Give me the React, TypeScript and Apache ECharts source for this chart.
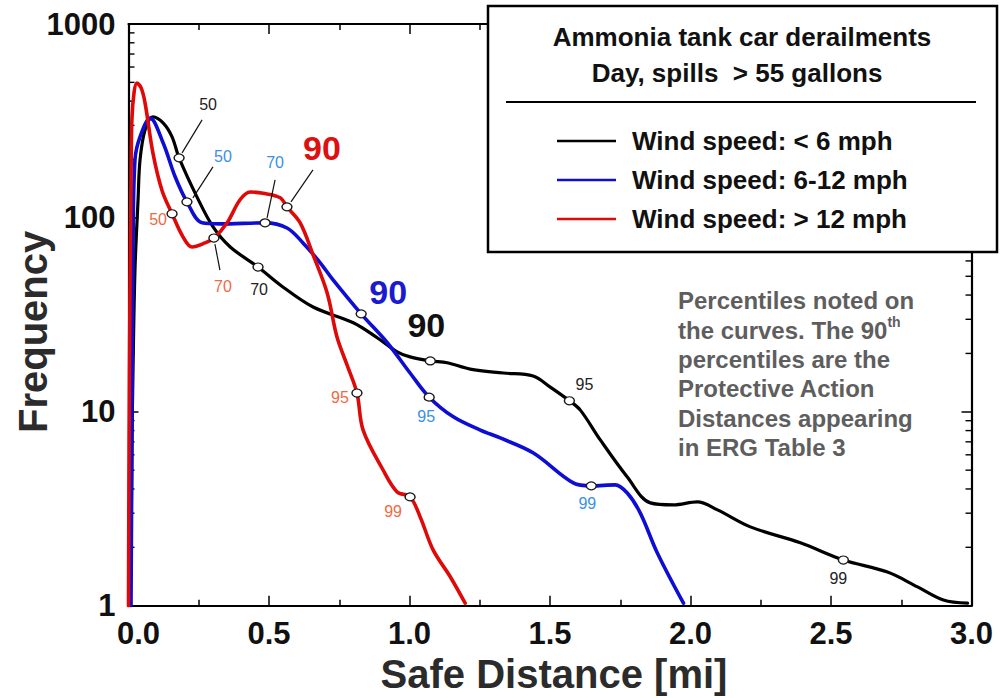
import React, { useEffect, useRef } from "react";
import * as echarts from "echarts";

const FONT = '"Liberation Sans", Arial, Helvetica, sans-serif';

// ---------- text ----------
const seriesNames = ["Wind speed: < 6 mph", "Wind speed: 6-12 mph", "Wind speed: > 12 mph"];
const titleLines = ["Ammonia tank car derailments", "Day, spills  > 55 gallons"];
const noteLines = [
  "Percentiles noted on",
  "the curves. The 90{sup|th}",
  "percentiles are the",
  "Protective Action",
  "Distances appearing",
  "in ERG Table 3",
];
const xAxisName = "Safe Distance [mi]";
const yAxisName = "Frequency";

// ---------- axis ticks ----------
const xMin = 0;
const xMax = 3;
const xInterval = 0.5;
const yMin = 1;
const yMax = 1000;
const logMinorTicks = [2, 3, 4, 5, 6, 7, 8, 9, 20, 30, 40, 50, 60, 70, 80, 90, 200, 300, 400, 500, 600, 700, 800, 900];

// ---------- curves: [distance mi, frequency] ----------
const lowWind: [number, number][] = [
  [0.005, 1], [0.009, 1.94], [0.012, 6.36], [0.016, 16.4], [0.023, 53.8], [0.034, 124], [0.041, 199],
  [0.059, 285], [0.087, 332], [0.123, 309], [0.155, 262], [0.18, 204], [0.244, 128], [0.301, 89.8],
  [0.362, 70.8], [0.461, 55.8], [0.54, 45.1], [0.657, 34.7], [0.8, 28.8], [0.885, 24.1], [0.956, 20.4],
  [1.002, 19.2], [1.074, 18.3], [1.134, 17.9], [1.216, 16.6], [1.334, 15.85], [1.44, 15.3], [1.501, 13.4],
  [1.569, 11.4], [1.608, 10.2], [1.679, 7.16], [1.775, 4.61], [1.857, 3.39], [1.939, 3.31], [2.024, 3.43],
  [2.096, 3.12], [2.213, 2.55], [2.391, 2.11], [2.544, 1.72], [2.701, 1.49], [2.808, 1.25], [2.9, 1.07],
  [2.986, 1.03],
];
const midWind: [number, number][] = [
  [0.009, 1], [0.012, 6.36], [0.016, 65.8], [0.023, 199], [0.041, 262], [0.077, 327], [0.123, 244],
  [0.166, 163], [0.208, 121], [0.262, 94.3], [0.326, 93.1], [0.486, 94.3], [0.564, 88.7], [0.621, 74.3],
  [0.683, 58.5], [0.728, 47.9], [0.828, 32], [0.921, 22.7], [1.002, 15.85], [1.07, 11.9], [1.156, 9.42],
  [1.252, 8.05], [1.323, 7.33], [1.441, 6.13], [1.583, 4.3], [1.647, 4.15], [1.732, 4.2], [1.775, 3.81],
  [1.821, 3.01], [1.882, 1.87], [1.975, 1.03],
];
const highWind: [number, number][] = [
  [0.0, 1], [0.002, 6.36], [0.005, 37.6], [0.009, 157], [0.012, 320], [0.02, 446], [0.03, 496],
  [0.045, 468], [0.059, 391], [0.087, 216], [0.119, 139], [0.155, 105], [0.194, 79.8], [0.226, 70.8],
  [0.272, 74.3], [0.304, 78.7], [0.351, 94.3], [0.397, 124], [0.433, 136], [0.479, 134], [0.54, 127],
  [0.564, 114], [0.611, 94.3], [0.657, 64.4], [0.707, 41], [0.742, 24.3], [0.778, 17.4], [0.813, 12.5],
  [0.835, 8.05], [0.906, 5.01], [0.956, 3.86], [1.002, 3.64], [1.038, 2.87], [1.084, 1.94], [1.145, 1.41],
  [1.198, 1.03],
];

// ---------- percentile points ----------
const percentiles = [50, 70, 90, 95, 99];
const lowWindPct: [number, number][] = [[0.18, 204], [0.461, 55.8], [1.074, 18.3], [1.569, 11.4], [2.544, 1.72]];
const midWindPct: [number, number][] = [[0.208, 121], [0.486, 94.3], [0.828, 32], [1.07, 11.9], [1.647, 4.15]];
const highWindPct: [number, number][] = [[0.155, 105], [0.304, 78.7], [0.564, 114], [0.813, 12.5], [1.002, 3.64]];

// ---------- layout (pixel offsets of labels / leader lines relative to markers) ----------
const labelOffsets: Record<string, number[][]> = {
  low: [[29, -53], [1, 22], [-4, -36], [15, -16], [-5, 18]],
  mid: [[36, -45], [10, -60], [27, -22], [-3, 19], [-4, 18]],
  high: [[-14, 6], [9, 48], [35, -59], [-17, 4], [-17, 15]],
};
const leaderSpecs = [
  { set: "low", i: 0, from: [3, -5], to: [23, -38] },
  { set: "mid", i: 0, from: [6, -4], to: [26, -35] },
  { set: "mid", i: 1, from: [2, -5], to: [10, -43] },
  { set: "high", i: 1, from: [1, 6], to: [6, 32] },
  { set: "high", i: 2, from: [4, -5], to: [26, -37] },
];

const COLORS = { low: "#000000", mid: "#0d0dd4", high: "#de0a0a" };
const SMALL_LABEL = { low: "#222222", mid: "#3a90e8", high: "#f06a45" };
const BIG_LABEL = { low: "#111111", mid: "#1a1ad0", high: "#dd1111" };

function pctSeries(key: "low" | "mid" | "high", pts: [number, number][]) {
  return {
    type: "scatter",
    name: key + "-pct",
    z: 6,
    silent: true,
    symbol: "circle",
    symbolSize: [10, 8],
    itemStyle: { color: "#ffffff", borderColor: "#1a1a1a", borderWidth: 1.3, opacity: 1 },
    data: pts.map((p, i) => {
      const big = percentiles[i] === 90;
      return {
        value: p,
        label: {
          show: true,
          position: "inside",
          offset: labelOffsets[key][i],
          formatter: String(percentiles[i]),
          fontFamily: FONT,
          fontSize: big ? 34 : 16,
          fontWeight: big ? "bold" : "normal",
          color: big ? BIG_LABEL[key] : SMALL_LABEL[key],
          textBorderWidth: 0,
        },
      };
    }),
  };
}

function lineSeries(name: string, data: [number, number][], color: string, width: number) {
  return {
    type: "line",
    name,
    data,
    z: 4,
    showSymbol: false,
    symbol: "none",
    smooth: 0.35,
    silent: true,
    lineStyle: { color, width, cap: "round", join: "round" },
    itemStyle: { color },
  };
}

export default function App() {
  const ref = useRef<HTMLDivElement>(null);

  useEffect(() => {
    if (!ref.current) return;
    const chart = echarts.init(ref.current, null, { renderer: "svg" });
    const pctSets: Record<string, [number, number][]> = { low: lowWindPct, mid: midWindPct, high: highWindPct };

    const tickLabelStyle = {
      fontFamily: FONT,
      fontSize: 31,
      fontWeight: "bold",
      color: "#111111",
    };

    const option: any = {
      animation: false,
      backgroundColor: "#ffffff",
      grid: {
        left: 128.5,
        right: 28.5,
        top: 24,
        bottom: 92.3,
        containLabel: false,
        outerBoundsMode: "none",
      },
      xAxis: [
        {
          type: "value",
          position: "bottom",
          min: xMin,
          max: xMax,
          interval: xInterval,
          name: xAxisName,
          nameLocation: "middle",
          nameGap: 47,
          nameTextStyle: { fontFamily: FONT, fontSize: 40, fontWeight: "bold", color: "#2b2b2b", padding: [0, 0, 0, 8] },
          axisLine: { show: true, onZero: false, lineStyle: { color: "#000", width: 2.2 } },
          axisTick: { show: true, inside: true, length: 10, lineStyle: { color: "#000", width: 1.5 } },
          minorTick: { show: true, splitNumber: 2, length: 6, lineStyle: { color: "#000", width: 1.5 } },
          splitLine: { show: false },
          minorSplitLine: { show: false },
          axisLabel: {
            ...tickLabelStyle,
            margin: 12,
            formatter: (v: number) => (v === 0 ? "{z|0.0}" : v.toFixed(1)),
            rich: { z: { ...tickLabelStyle, padding: [0, 0, 0, 20] } },
          },
        },
        {
          type: "value",
          position: "top",
          min: xMin,
          max: xMax,
          interval: xInterval,
          axisLine: { show: true, onZero: false, lineStyle: { color: "#000", width: 2.2 } },
          axisTick: { show: true, inside: true, length: 10, lineStyle: { color: "#000", width: 1.5 } },
          minorTick: { show: true, splitNumber: 2, length: 6, lineStyle: { color: "#000", width: 1.5 } },
          splitLine: { show: false },
          axisLabel: { show: false },
        },
      ],
      yAxis: [
        {
          type: "log",
          logBase: 10,
          position: "left",
          min: yMin,
          max: yMax,
          name: yAxisName,
          nameLocation: "middle",
          nameRotate: 90,
          nameGap: 76,
          nameMoveOverlap: false,
          nameTextStyle: { fontFamily: FONT, fontSize: 40, fontWeight: "bold", color: "#2b2b2b", padding: [0, 34, 0, 0] },
          axisLine: { show: true, onZero: false, lineStyle: { color: "#000", width: 2.2 } },
          axisTick: { show: true, inside: true, length: 10, lineStyle: { color: "#000", width: 1.5 } },
          minorTick: { show: false },
          splitLine: { show: false },
          axisLabel: {
            ...tickLabelStyle,
            margin: 13,
            padding: [16, 0, 0, 0],
            formatter: (v: number) => String(Math.round(v)),
          },
        },
        {
          type: "log",
          logBase: 10,
          position: "right",
          min: yMin,
          max: yMax,
          axisLine: { show: true, onZero: false, lineStyle: { color: "#000", width: 2.2 } },
          axisTick: { show: true, inside: true, length: 10, lineStyle: { color: "#000", width: 1.5 } },
          minorTick: { show: false },
          splitLine: { show: false },
          axisLabel: { show: false },
        },
      ],
      legend: {
        show: true,
        data: seriesNames,
        orient: "vertical",
        left: 552,
        top: 123,
        z: 20,
        icon: "rect",
        itemWidth: 59,
        itemHeight: 2.5,
        itemGap: 13,
        selectedMode: false,
        textStyle: {
          fontFamily: FONT,
          fontSize: 26,
          fontWeight: "bold",
          color: "#111111",
          padding: [0, 0, 0, 11],
        },
      },
      graphic: {
        elements: [
          {
            type: "rect",
            z: 10,
            shape: { x: 488, y: 6, width: 509, height: 246 },
            style: { fill: "#ffffff", stroke: "#000000", lineWidth: 2.5 },
          },
          {
            type: "text",
            z: 11,
            x: 742,
            y: 37,
            style: {
              text: titleLines[0],
              align: "center",
              verticalAlign: "middle",
              font: `bold 26px ${FONT}`,
              fill: "#111111",
            },
          },
          {
            type: "text",
            z: 11,
            x: 737,
            y: 73,
            style: {
              text: titleLines[1],
              align: "center",
              verticalAlign: "middle",
              font: `bold 26px ${FONT}`,
              fill: "#111111",
            },
          },
          {
            type: "line",
            z: 11,
            shape: { x1: 506, y1: 102, x2: 976, y2: 102 },
            style: { stroke: "#000000", lineWidth: 2 },
          },
          {
            type: "text",
            z: 11,
            x: 678,
            y: 286,
            style: {
              text: noteLines.join("\n"),
              align: "left",
              verticalAlign: "top",
              font: `bold 24px ${FONT}`,
              lineHeight: 29.4,
              fill: "#5e5e5e",
              rich: {
                sup: {
                  font: `bold 14px ${FONT}`,
                  fill: "#5e5e5e",
                  verticalAlign: "top",
                  lineHeight: 22,
                },
              },
            },
          },
        ],
      },
      series: [
        lineSeries(seriesNames[0], lowWind, COLORS.low, 3.2),
        lineSeries(seriesNames[1], midWind, COLORS.mid, 3.6),
        lineSeries(seriesNames[2], highWind, COLORS.high, 3.6),
        {
          type: "custom",
          name: "log-minor-ticks",
          silent: true,
          z: 3,
          data: logMinorTicks.map((v) => [xMin, v]),
          encode: { x: 0, y: 1 },
          renderItem: (_params: any, api: any) => {
            const v = api.value(1);
            const l = api.coord([xMin, v]);
            const r = api.coord([xMax, v]);
            return {
              type: "group",
              children: [
                { type: "line", shape: { x1: l[0], y1: l[1], x2: l[0] + 6, y2: l[1] }, style: { stroke: "#000", lineWidth: 1.4 } },
                { type: "line", shape: { x1: r[0], y1: r[1], x2: r[0] - 6, y2: r[1] }, style: { stroke: "#000", lineWidth: 1.4 } },
              ],
            };
          },
        },
        {
          type: "custom",
          name: "leaders",
          silent: true,
          z: 5,
          data: leaderSpecs.map((s) => pctSets[s.set][s.i]),
          encode: { x: 0, y: 1 },
          renderItem: (params: any, api: any) => {
            const s = leaderSpecs[params.dataIndex];
            const p = api.coord([api.value(0), api.value(1)]);
            return {
              type: "line",
              shape: { x1: p[0] + s.from[0], y1: p[1] + s.from[1], x2: p[0] + s.to[0], y2: p[1] + s.to[1] },
              style: { stroke: "#111", lineWidth: 1.2 },
            };
          },
        },
        pctSeries("low", lowWindPct),
        pctSeries("mid", midWindPct),
        pctSeries("high", highWindPct),
      ],
    };

    chart.setOption(option);
    return () => chart.dispose();
  }, []);

  return (
    <div
      ref={ref}
      style={{ position: "fixed", left: 0, top: 0, width: 1000, height: 698, background: "#fff" }}
    />
  );
}
